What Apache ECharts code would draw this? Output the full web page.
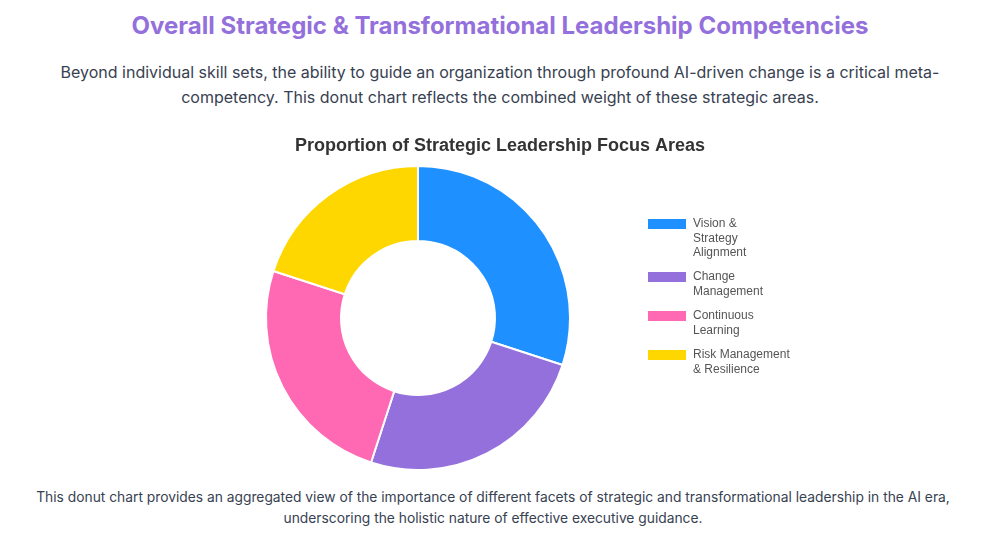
<!DOCTYPE html>
<html>
<head>
<meta charset="utf-8">
<script src="https://cdn.jsdelivr.net/npm/echarts@6/dist/echarts.min.js"></script>
<style>
  html, body { margin: 0; padding: 0; background: #fff; }
  body { width: 986px; height: 542px; position: relative; font-family: Inter, "Noto Sans", sans-serif; overflow: hidden; }
  .head { position: absolute; top: 10px; left: 7px; width: 986px; text-align: center; margin: 0;
          font-size: 24px; font-weight: 700; color: #9370DB; line-height: 32px; }
  .intro { position: absolute; top: 60px; left: 7px; width: 986px; text-align: center; margin: 0;
           font-size: 16px; color: #374151; line-height: 25px; }
  .outro { position: absolute; top: 487px; left: 0; width: 986px; text-align: center; margin: 0;
           font-size: 13.8px; color: #374151; line-height: 21px; }
  .intro span, .outro span { display: block; white-space: nowrap; }
  #chart { position: absolute; top: 125px; left: 0; width: 986px; height: 355px; }
</style>
</head>
<body>
<h1 class="head">Overall Strategic &amp; Transformational Leadership Competencies</h1>
<p class="intro"><span>Beyond individual skill sets, the ability to guide an organization through profound AI-driven change is a critical meta-</span><span>competency. This donut chart reflects the combined weight of these strategic areas.</span></p>
<div id="chart"></div>
<p class="outro"><span>This donut chart provides an aggregated view of the importance of different facets of strategic and transformational leadership in the AI era,</span><span>underscoring the holistic nature of effective executive guidance.</span></p>
<script>
  var areas = ['Vision & Strategy Alignment', 'Change Management', 'Continuous Learning', 'Risk Management & Resilience'];
  var legendLabels = ['Vision &\nStrategy\nAlignment', 'Change\nManagement', 'Continuous\nLearning', 'Risk Management\n& Resilience'];
  var weights = [30, 25, 25, 20];
  var colors = ['#1E90FF', '#9370DB', '#FF69B4', '#FFD700'];

  var myChart = echarts.init(document.getElementById('chart'));
  var lineH = 14.5;
  var legendTops = [91.75, 144.75, 183.75, 222.75];

  // one legend per area so the colour box sits on the first line of the wrapped label
  var legends = areas.map(function (name, i) {
    var lines = legendLabels[i].split('\n').length;
    var h = lines * lineH;
    var y0 = lineH / 2 - 5;
    var icon = 'path://M0,0L0.01,0L0,0.01Z M40,' + h + 'L39.99,' + h + 'L40,' + (h - 0.01) + 'Z ' +
      'M0,' + y0 + 'H38V' + (y0 + 10) + 'H0Z';
    return {
      orient: 'vertical',
      left: 648,
      top: legendTops[i],
      padding: 0,
      itemWidth: 40,
      itemHeight: h,
      itemGap: 0,
      icon: icon,
      itemStyle: { borderWidth: 0 },
      data: [name],
      formatter: function () { return legendLabels[i]; },
      textStyle: { fontFamily: 'Liberation Sans, Arial, sans-serif', fontSize: 12, color: '#555', lineHeight: lineH }
    };
  });

  var option = {
    color: colors,
    title: {
      text: 'Proportion of Strategic Leadership Focus Areas',
      left: 495,
      textAlign: 'center',
      top: 7,
      textStyle: { fontFamily: 'Liberation Sans, Arial, sans-serif', fontSize: 18, fontWeight: 'bold', color: '#333' }
    },
    legend: legends,
    series: [{
      type: 'pie',
      center: [418, 193],
      radius: [77, 152],
      startAngle: 90,
      clockwise: true,
      label: { show: false },
      labelLine: { show: false },
      itemStyle: { borderColor: '#fff', borderWidth: 2 },
      data: areas.map(function (name, i) { return { name: name, value: weights[i] }; })
    }]
  };

  myChart.setOption(option);
  window.addEventListener('resize', function () {
    myChart.resize();
  });
</script>
</body>
</html>
